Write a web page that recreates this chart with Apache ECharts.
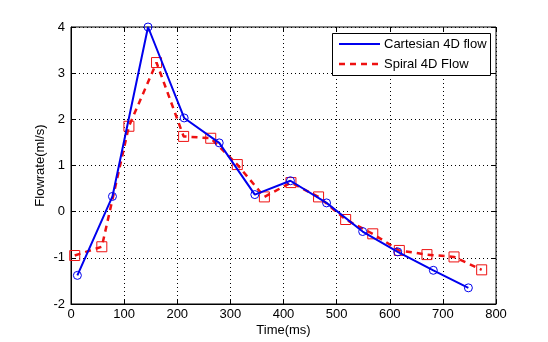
<!DOCTYPE html>
<html>
<head>
<meta charset="utf-8">
<script src="https://cdn.jsdelivr.net/npm/echarts@6/dist/echarts.min.js"></script>
<style>
  html, body { margin: 0; padding: 0; background: #fff; }
  #chart { width: 548px; height: 342px; }
</style>
</head>
<body>
<div id="chart"></div>
<script>
  // Cartesian 4D flow (blue, circles)
  let cartTime = [12, 78, 145, 213, 279, 346, 413, 481, 549, 615, 682, 748];
  let cartFlow = [-1.38, 0.33, 4.0, 2.03, 1.49, 0.37, 0.67, 0.19, -0.43, -0.87, -1.27, -1.65];
  // Spiral 4D flow (red, squares)
  let spiralTime = [7, 58, 109, 161, 212, 263, 313, 364, 414, 466, 517, 568, 618, 670, 721, 773];
  let spiralFlow = [-0.95, -0.76, 1.85, 3.23, 1.63, 1.59, 1.02, 0.32, 0.63, 0.32, -0.17, -0.48, -0.84, -0.93, -0.98, -1.26];
  let seriesNames = ['Cartesian 4D flow', 'Spiral 4D Flow'];

  let font = 'Liberation Sans, Arial, sans-serif';
  let chart = echarts.init(document.getElementById('chart'));

  let zip = (xs, ys) => xs.map((x, i) => [x, ys[i]]);

  let tickStyle = { inside: true, length: 4, lineStyle: { color: '#000' } };
  let gridDots = { show: true, lineStyle: { color: '#000', type: [1, 3], width: 1 } };

  chart.setOption({
    animation: false,
    grid: {
      left: 71, right: 52, top: 27, bottom: 38, outerBoundsMode: 'none',
      show: true, borderColor: '#000', borderWidth: 1
    },
    xAxis: [{
      type: 'value', min: 0, max: 800, interval: 100,
      name: 'Time(ms)', nameLocation: 'middle', nameGap: 20, nameMoveOverlap: false,
      nameTextStyle: { color: '#000', fontSize: 13, fontFamily: font },
      axisLine: { show: true, onZero: false, lineStyle: { color: '#000' } },
      axisTick: tickStyle,
      axisLabel: { color: '#000', fontSize: 13, fontFamily: font, margin: 4 },
      splitLine: gridDots
    }, {
      type: 'value', min: 0, max: 800, interval: 100, position: 'top',
      axisLine: { show: false, onZero: false }, axisTick: tickStyle,
      axisLabel: { show: false }, splitLine: { show: false }
    }],
    yAxis: [{
      type: 'value', min: -2, max: 4, interval: 1,
      name: 'Flowrate(ml/s)', nameLocation: 'middle', nameGap: 24, nameMoveOverlap: false,
      nameTextStyle: { color: '#000', fontSize: 13, fontFamily: font },
      axisLine: { show: true, onZero: false, lineStyle: { color: '#000' } },
      axisTick: tickStyle,
      axisLabel: { color: '#000', fontSize: 13, fontFamily: font, margin: 6 },
      splitLine: gridDots
    }, {
      type: 'value', min: -2, max: 4, interval: 1, position: 'right',
      axisLine: { show: false, onZero: false }, axisTick: tickStyle,
      axisLabel: { show: false }, splitLine: { show: false }
    }],
    series: [{
      name: seriesNames[0], type: 'line',
      data: zip(cartTime, cartFlow),
      symbol: 'circle', symbolSize: 8,
      lineStyle: { color: '#0000ee', width: 2 },
      itemStyle: { color: 'none', borderColor: '#0000ee', borderWidth: 1 },
      z: 3
    }, {
      name: seriesNames[1], type: 'line',
      data: zip(spiralTime, spiralFlow),
      symbol: 'rect', symbolSize: 10,
      lineStyle: { color: '#ee1111', width: 2.5, type: [6, 5] },
      itemStyle: { color: 'none', borderColor: '#ee1111', borderWidth: 1 },
      z: 2
    }],
    graphic: [
      { type: 'rect', shape: { x: 332.5, y: 33.5, width: 158, height: 42 },
        style: { fill: '#fff', stroke: '#000', lineWidth: 1 }, z: 10 },
      { type: 'line', shape: { x1: 339, y1: 44, x2: 380, y2: 44 },
        style: { stroke: '#0000ee', lineWidth: 2 }, z: 11 },
      { type: 'line', shape: { x1: 339, y1: 64, x2: 380, y2: 64 },
        style: { stroke: '#ee1111', lineWidth: 2.5, lineDash: [6, 5] }, z: 11 },
      { type: 'text', x: 384, y: 44, z: 11,
        style: { text: seriesNames[0], fill: '#000', fontSize: 13, fontFamily: font, verticalAlign: 'middle' } },
      { type: 'text', x: 384, y: 64, z: 11,
        style: { text: seriesNames[1], fill: '#000', fontSize: 13, fontFamily: font, verticalAlign: 'middle' } }
    ]
  });
</script>
</body>
</html>
